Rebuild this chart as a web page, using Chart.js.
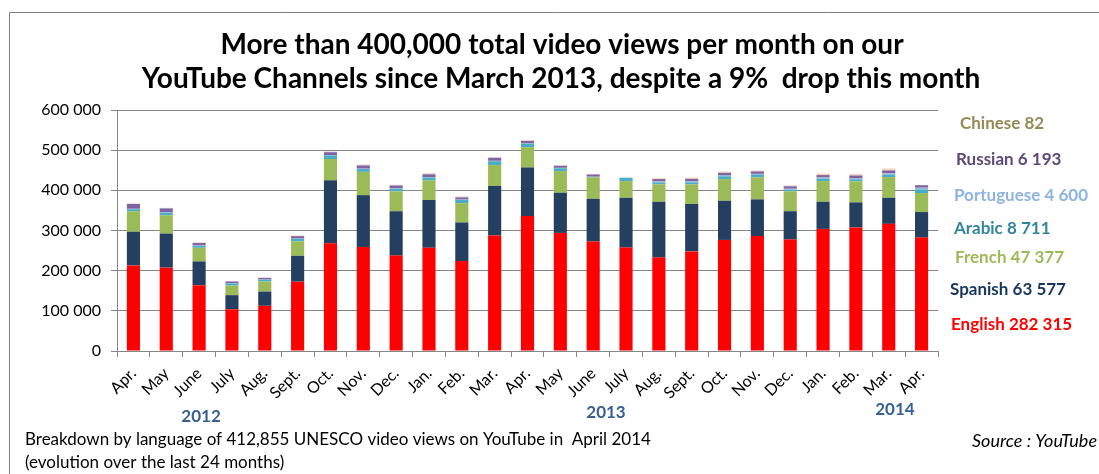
<!DOCTYPE html>
<html>
<head>
<meta charset="utf-8">
<script src="https://cdn.jsdelivr.net/npm/chart.js@4.4.1/dist/chart.umd.min.js"></script>
<style>
  html, body { margin: 0; padding: 0; background: #fff; }
  #wrap { position: relative; width: 1099px; height: 474px; }
  canvas { display: block; }
</style>
</head>
<body>
<div id="wrap"><canvas id="c" width="1099" height="474"></canvas></div>
<script>
const months = ["Apr.","May","June","July","Aug.","Sept.","Oct.","Nov.","Dec.","Jan.","Feb.","Mar.","Apr.","May","June","July","Aug.","Sept.","Oct.","Nov.","Dec.","Jan.","Feb.","Mar.","Apr."];
const yearLabels = ["2012","2013","2014"];
const yTicks = [0, 100000, 200000, 300000, 400000, 500000, 600000];

const english    = [213000,207500,164000,104000,112500,172500,268000,259000,237500,257000,224000,287500,336000,294000,272500,257500,232500,248000,276500,286000,277500,304000,307500,316500,282315];
const spanish    = [84000,85000,59000,35000,35500,64500,157000,129000,110500,119000,96000,123500,121000,100000,106500,124000,139000,118000,97500,91500,70500,67500,62500,65000,63577];
const french     = [51000,45500,34000,24000,25000,36000,53000,58000,49500,49000,48000,52000,50500,54000,53500,41500,43500,49000,54000,55000,49500,51500,52500,51500,47377];
const arabic     = [5000,6000,5000,5000,4500,6000,9000,7000,6500,7000,8000,9500,8500,7000,1000,8000,4500,5000,7000,6000,4000,6000,5000,6000,8711];
const portuguese = [1000,1000,1000,500,500,1000,1000,1000,1000,1000,1000,1000,1000,1000,500,500,2500,2500,3000,2500,2500,3000,3000,3500,4600];
const russian    = [12000,10000,6000,4500,4000,6000,7000,8000,7000,7000,5500,7500,6000,5000,5500,0,6000,6000,5500,6000,6000,6000,6500,7000,6193];
const chinese    = [1500,1500,1500,1500,1000,1500,2000,2500,2000,2500,2500,1500,2000,2000,1500,500,3000,3500,3500,2500,2500,4000,4000,5000,82];

const legendItems = [
  ["Chinese 82", "#948A54"],
  ["Russian 6 193", "#5F497A"],
  ["Portuguese 4 600", "#8DB4E2"],
  ["Arabic 8 711", "#31859C"],
  ["French 47 377", "#9BBB59"],
  ["Spanish 63 577", "#17375E"],
  ["English 282 315", "#FF0000"]
];

const FONT = "Lato, Carlito, 'Liberation Sans', sans-serif";

function fmt(v) {
  return String(v).replace(/\B(?=(\d{3})+(?!\d))/g, " ");
}

const overlay = {
  id: 'overlay',
  afterDraw(chart) {
    const ctx = chart.ctx;
    ctx.save();
    // frame
    ctx.strokeStyle = '#7f7f7f';
    ctx.lineWidth = 1;
    ctx.beginPath();
    ctx.moveTo(9.5, 480);
    ctx.lineTo(9.5, 12.5);
    ctx.lineTo(1110, 12.5);
    ctx.stroke();

    // title
    ctx.fillStyle = '#000';
    ctx.textAlign = 'center';
    ctx.textBaseline = 'middle';
    ctx.font = "bold 28px " + FONT;
    ctx.fillText("More than 400,000 total video views per month on our", 562, 45);
    ctx.fillText("YouTube Channels since March 2013, despite a 9%  drop this month", 561, 79);

    // legend-like labels
    const ly = [124, 160, 196, 229, 258, 290, 325];
    const lx = [960, 956, 954, 954, 955, 950, 951];
    ctx.textAlign = 'left';
    ctx.font = "bold 17px " + FONT;
    legendItems.forEach((it, i) => {
      ctx.fillStyle = it[1];
      ctx.fillText(it[0], lx[i], ly[i]);
    });

    // years
    const xs = chart.scales.x;
    ctx.fillStyle = '#376092';
    ctx.font = "bold 17px " + FONT;
    ctx.textAlign = 'center';
    const yPos = [417, 413, 410];
    const yIdx = [2.06, 14.39, 23.19];
    const step = xs.getPixelForValue(1) - xs.getPixelForValue(0);
    yearLabels.forEach((y, i) => {
      const x = xs.getPixelForValue(0) + yIdx[i] * step;
      ctx.fillText(y, x, yPos[i]);
    });

    // footnotes
    ctx.fillStyle = '#000';
    ctx.textAlign = 'left';
    ctx.font = "17px " + FONT;
    ctx.fillText("Breakdown by language of 412,855 UNESCO video views on YouTube in  April 2014", 25, 440);
    ctx.fillText("(evolution over the last 24 months)", 25, 463);
    ctx.textAlign = 'right';
    ctx.font = "italic 18px " + FONT;
    ctx.fillText("Source : YouTube", 1097, 441);
    ctx.restore();
  }
};

function ds(label, data, color) {
  return { label, data, backgroundColor: color, borderWidth: 0, stack: 's' };
}

new Chart(document.getElementById('c'), {
  type: 'bar',
  data: {
    labels: months,
    datasets: [
      ds('English', english, '#FF0000'),
      ds('Spanish', spanish, '#243F60'),
      ds('French', french, '#9BBB59'),
      ds('Arabic', arabic, '#4BACC6'),
      ds('Portuguese', portuguese, '#95B3D7'),
      ds('Russian', russian, '#8064A2'),
      ds('Chinese', chinese, '#F2D2C0')
    ]
  },
  options: {
    responsive: false,
    animation: false,
    devicePixelRatio: 1,
    layout: { padding: { left: 0, right: 161, top: 110, bottom: 0 } },
    datasets: { bar: { categoryPercentage: 1.0, barPercentage: 0.4 } },
    plugins: { legend: { display: false }, title: { display: false }, tooltip: { enabled: false } },
    scales: {
      x: {
        stacked: true,
        afterFit(scale) { scale.height = 123; },
        grid: { display: true, drawOnChartArea: false, color: '#868686', tickLength: 6, offset: true },
        border: { display: true, color: '#868686', width: 1 },
        ticks: {
          color: '#000', font: { family: FONT, size: 16 },
          maxRotation: 45, minRotation: 45, autoSkip: false, padding: 7
        }
      },
      y: {
        stacked: true,
        min: 0, max: 600000,
        afterFit(scale) { scale.width = 117; },
        afterBuildTicks(scale) { scale.ticks = yTicks.map(v => ({ value: v })); },
        grid: { color: '#868686', lineWidth: 1, tickLength: 6 },
        border: { display: true, color: '#868686', width: 1 },
        ticks: {
          color: '#000', font: { family: FONT, size: 16 }, padding: 10,
          callback: (v) => fmt(v)
        }
      }
    }
  },
  plugins: [overlay]
});
</script>
</body>
</html>
